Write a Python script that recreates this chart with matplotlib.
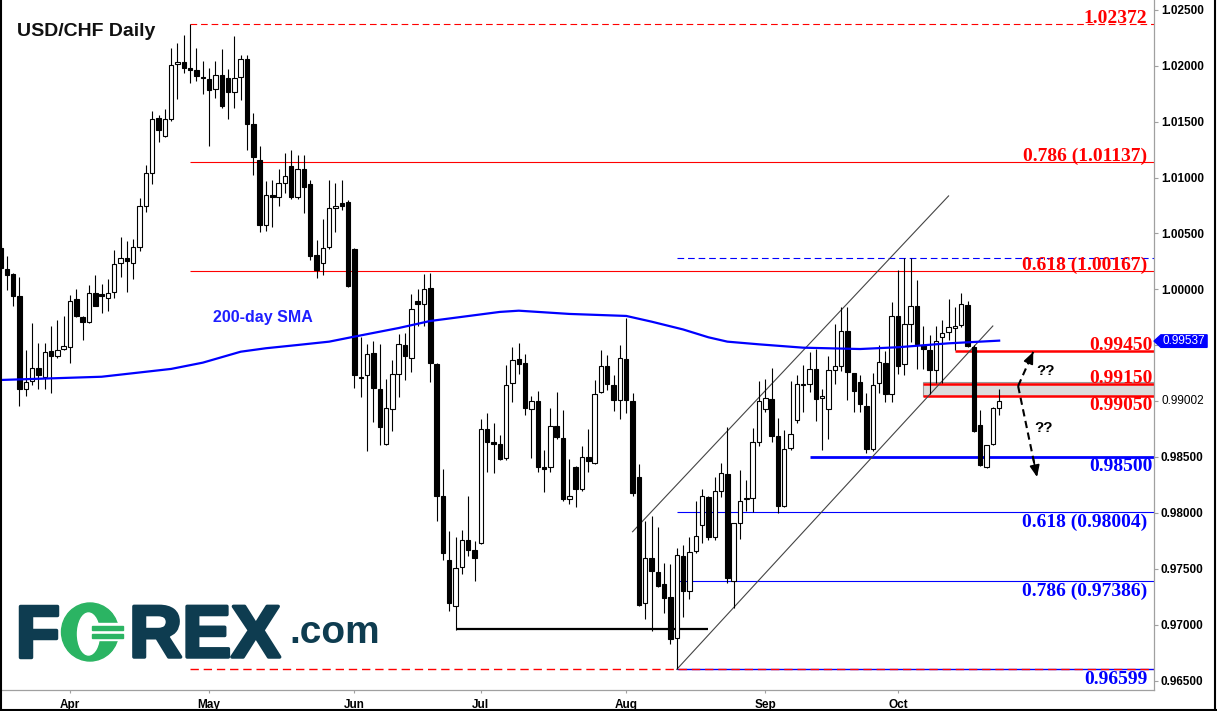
import matplotlib
matplotlib.use("Agg")
import matplotlib.pyplot as plt
import matplotlib.transforms as mtransforms
import matplotlib.patheffects as pe
from matplotlib.patches import Rectangle, Ellipse, Polygon
from matplotlib.lines import Line2D
import numpy as np
import pandas as pd

plt.rcParams['font.family'] = ['Liberation Sans', 'DejaVu Sans']

# ---------------------------------------------------------------
# USD/CHF daily candles
# ---------------------------------------------------------------
start_date = "2019-03-15"

opens = [
    1.0037, 1.0018, 1.0014, 0.9994, 0.9911, 0.9918, 0.9930, 0.9922, 0.9945, 0.9940,
    0.9947, 0.9948, 0.9991, 0.9975, 0.9971, 0.9997, 0.9996, 0.9992, 0.9998, 1.0024,
    1.0028, 1.0024, 1.0038, 1.0075, 1.0104, 1.0153, 1.0137, 1.0152, 1.0202, 1.0203,
    1.0198, 1.0196, 1.0190, 1.0188, 1.0179, 1.0192, 1.0189, 1.0177, 1.0190, 1.0206,
    1.0148, 1.0116, 1.0058, 1.0084, 1.0083, 1.0095, 1.0110, 1.0083, 1.0108, 1.0094,
    1.0031, 1.0024, 1.0038, 1.0073, 1.0077, 1.0078, 1.0036, 0.9922, 0.9923, 0.9943,
    0.9911, 0.9862, 0.9893, 0.9924, 0.9950, 0.9939, 0.9990, 0.9987, 1.0001, 0.9933,
    0.9815, 0.9758, 0.9717, 0.9752, 0.9776, 0.9767, 0.9773, 0.9875, 0.9863, 0.9862,
    0.9849, 0.9916, 0.9938, 0.9934, 0.9893, 0.9900, 0.9841, 0.9841, 0.9878, 0.9867,
    0.9812, 0.9841, 0.9821, 0.9850, 0.9845, 0.9908, 0.9931, 0.9914, 0.9901, 0.9938,
    0.9900, 0.9832, 0.9719, 0.9760, 0.9747, 0.9736, 0.9725, 0.9688, 0.9761, 0.9730,
    0.9766, 0.9789, 0.9814, 0.9778, 0.9820, 0.9835, 0.9739, 0.9791, 0.9812, 0.9813,
    0.9863, 0.9893, 0.9902, 0.9869, 0.9806, 0.9858, 0.9883, 0.9914, 0.9915, 0.9929,
    0.9903, 0.9893, 0.9928, 0.9931, 0.9963, 0.9925, 0.9917, 0.9896, 0.9857, 0.9916,
    0.9934, 0.9906, 0.9976, 0.9933, 0.9969, 0.9985, 0.9950, 0.9946, 0.9928, 0.9957,
    0.9962, 0.9965, 0.9968, 0.9986, 0.9948, 0.9879, 0.9841, 0.9862, 0.9894,
]
highs = [
    1.0040, 1.0030, 1.0015, 1.0011, 0.9946, 0.9970, 0.9952, 0.9952, 0.9967, 0.9973,
    0.9976, 0.9995, 1.0000, 0.9976, 1.0004, 1.0013, 1.0005, 1.0009, 1.0035, 1.0047,
    1.0043, 1.0045, 1.0082, 1.0111, 1.0160, 1.0156, 1.0161, 1.0216, 1.0220, 1.0228,
    1.0237, 1.0216, 1.0204, 1.0198, 1.0204, 1.0215, 1.0197, 1.0227, 1.0210, 1.0210,
    1.0158, 1.0128, 1.0097, 1.0098, 1.0108, 1.0122, 1.0125, 1.0120, 1.0120, 1.0098,
    1.0044, 1.0063, 1.0098, 1.0095, 1.0098, 1.0080, 1.0037, 0.9957, 0.9951, 0.9954,
    0.9951, 0.9920, 0.9937, 0.9960, 0.9961, 0.9996, 1.0000, 1.0014, 1.0015, 0.9934,
    0.9839, 0.9784, 0.9778, 0.9785, 0.9815, 0.9775, 0.9884, 0.9889, 0.9880, 0.9870,
    0.9932, 0.9948, 0.9952, 0.9942, 0.9905, 0.9909, 0.9856, 0.9894, 0.9908, 0.9892,
    0.9848, 0.9842, 0.9860, 0.9875, 0.9919, 0.9946, 0.9941, 0.9923, 0.9950, 0.9974,
    0.9907, 0.9844, 0.9793, 0.9797, 0.9787, 0.9755, 0.9754, 0.9769, 0.9771, 0.9778,
    0.9811, 0.9821, 0.9815, 0.9832, 0.9845, 0.9877, 0.9791, 0.9838, 0.9829, 0.9876,
    0.9918, 0.9920, 0.9930, 0.9885, 0.9874, 0.9918, 0.9923, 0.9932, 0.9944, 0.9947,
    0.9911, 0.9940, 0.9969, 0.9984, 0.9984, 0.9925, 0.9923, 0.9907, 0.9925, 0.9950,
    0.9945, 0.9989, 1.0017, 1.0028, 1.0028, 1.0008, 0.9967, 0.9959, 0.9967, 0.9973,
    0.9991, 0.9984, 0.9997, 0.9990, 0.9950, 0.9892, 0.9861, 0.9895, 0.9911,
]
lows = [
    1.0015, 0.9999, 0.9985, 0.9896, 0.9905, 0.9914, 0.9911, 0.9911, 0.9907, 0.9939,
    0.9946, 0.9934, 0.9975, 0.9955, 0.9970, 0.9985, 0.9979, 0.9981, 0.9992, 1.0011,
    0.9998, 1.0009, 1.0034, 1.0069, 1.0094, 1.0132, 1.0136, 1.0151, 1.0170, 1.0194,
    1.0185, 1.0186, 1.0175, 1.0128, 1.0171, 1.0162, 1.0152, 1.0162, 1.0169, 1.0125,
    1.0102, 1.0051, 1.0052, 1.0056, 1.0075, 1.0086, 1.0081, 1.0081, 1.0068, 1.0026,
    1.0010, 1.0013, 1.0036, 1.0051, 1.0071, 1.0002, 0.9912, 0.9904, 0.9855, 0.9881,
    0.9861, 0.9861, 0.9873, 0.9904, 0.9919, 0.9926, 0.9967, 0.9967, 0.9917, 0.9793,
    0.9758, 0.9712, 0.9695, 0.9745, 0.9761, 0.9739, 0.9772, 0.9837, 0.9836, 0.9847,
    0.9847, 0.9899, 0.9924, 0.9888, 0.9849, 0.9837, 0.9819, 0.9837, 0.9866, 0.9811,
    0.9808, 0.9805, 0.9820, 0.9837, 0.9844, 0.9907, 0.9910, 0.9891, 0.9884, 0.9889,
    0.9815, 0.9717, 0.9705, 0.9694, 0.9734, 0.9710, 0.9683, 0.9660, 0.9707, 0.9723,
    0.9764, 0.9773, 0.9776, 0.9776, 0.9814, 0.9737, 0.9715, 0.9777, 0.9802, 0.9801,
    0.9860, 0.9890, 0.9863, 0.9800, 0.9805, 0.9856, 0.9880, 0.9890, 0.9908, 0.9882,
    0.9856, 0.9866, 0.9915, 0.9927, 0.9901, 0.9890, 0.9890, 0.9854, 0.9855, 0.9907,
    0.9899, 0.9899, 0.9924, 0.9923, 0.9953, 0.9929, 0.9929, 0.9906, 0.9916, 0.9916,
    0.9955, 0.9946, 0.9966, 0.9948, 0.9872, 0.9842, 0.9840, 0.9861, 0.9888,
]
closes = [
    1.0019, 1.0013, 0.9994, 0.9911, 0.9917, 0.9930, 0.9923, 0.9944, 0.9940, 0.9946,
    0.9949, 0.9990, 0.9976, 0.9971, 0.9997, 0.9985, 0.9994, 0.9997, 1.0023, 1.0028,
    1.0025, 1.0038, 1.0075, 1.0104, 1.0152, 1.0143, 1.0152, 1.0201, 1.0203, 1.0198,
    1.0196, 1.0191, 1.0189, 1.0178, 1.0192, 1.0164, 1.0177, 1.0189, 1.0206, 1.0148,
    1.0118, 1.0058, 1.0084, 1.0083, 1.0095, 1.0101, 1.0083, 1.0108, 1.0092, 1.0030,
    1.0017, 1.0037, 1.0073, 1.0075, 1.0075, 1.0003, 0.9923, 0.9921, 0.9942, 0.9912,
    0.9877, 0.9894, 0.9924, 0.9951, 0.9940, 0.9982, 0.9987, 1.0000, 0.9934, 0.9815,
    0.9764, 0.9719, 0.9751, 0.9776, 0.9767, 0.9760, 0.9875, 0.9863, 0.9862, 0.9848,
    0.9914, 0.9937, 0.9933, 0.9894, 0.9900, 0.9841, 0.9839, 0.9878, 0.9868, 0.9812,
    0.9815, 0.9821, 0.9850, 0.9846, 0.9906, 0.9931, 0.9915, 0.9901, 0.9939, 0.9901,
    0.9818, 0.9718, 0.9760, 0.9748, 0.9735, 0.9724, 0.9687, 0.9762, 0.9730, 0.9765,
    0.9779, 0.9815, 0.9778, 0.9820, 0.9836, 0.9742, 0.9791, 0.9811, 0.9813, 0.9863,
    0.9900, 0.9903, 0.9869, 0.9806, 0.9857, 0.9871, 0.9915, 0.9915, 0.9929, 0.9902,
    0.9905, 0.9928, 0.9931, 0.9963, 0.9926, 0.9909, 0.9897, 0.9857, 0.9914, 0.9935,
    0.9906, 0.9976, 0.9931, 0.9969, 0.9985, 0.9951, 0.9947, 0.9928, 0.9954, 0.9961,
    0.9966, 0.9967, 0.9987, 0.9949, 0.9873, 0.9843, 0.9861, 0.9894, 0.9900,
]

# 200-day SMA, sampled along the drawn line (candle index, price)
sma_idx = [0, 16, 27, 32, 38, 42, 47, 52, 56, 63, 68, 79, 82, 90, 99, 103, 108, 112, 115,
           120, 127, 136, 142, 150, 158]
sma_val = [0.99189, 0.99218, 0.99288, 0.99344, 0.99442, 0.99473, 0.99502, 0.99532, 0.99577,
           0.99654, 0.99717, 0.99798, 0.99809, 0.99780, 0.99762, 0.99711, 0.99641, 0.99571,
           0.99532, 0.99508, 0.99478, 0.99466, 0.99482, 0.99517, 0.99541]
sma_last = 0.99537
last_price = 0.99002

# Fibonacci levels (red: May high -> Aug low, blue: Oct high -> Aug low)
red_fib_high = 1.02372
red_fib_low = 0.96599
red_fib_levels = [1.01137, 1.00167]
red_fib_names = ["0.786", "0.618"]
blue_fib_high = 1.00277
blue_fib_levels = [0.98004, 0.97386]
blue_fib_names = ["0.618", "0.786"]

# hand drawn levels
resistance = 0.99450
zone_low, zone_high = 0.99050, 0.99150
support = 0.98500
june_low = 0.96958

# rising channel (candle index, price)
chan_up_x, chan_up_y = [100, 150], [0.97831, 1.00836]
chan_lo_x, chan_lo_y = [107, 157], [0.96600, 0.99672]

# scenario arrows
arrow_start = (161.0, 0.99135)
arrow_up_end = (163.4, 0.99440)
arrow_dn_end = (164.0, 0.98321)

RED = '#ff0000'
BLUE = '#0000ff'
GRID_GREY = '#a0a0a0'

n = len(closes)
x = np.arange(n)
dates = pd.bdate_range(start_date, periods=n)
o, h, l, c = map(np.array, (opens, highs, lows, closes))

fig = plt.figure(figsize=(12.17, 7.11), dpi=100)
ax = fig.add_axes([0, 21 / 711, 1154 / 1217, 690 / 711])
ax.set_facecolor('white')
xmax = 182.5
ax.set_xlim(-0.08, xmax)
ax.set_ylim(0.96415, 1.02589)

# -------------------------------------------------------------------
# Levels and drawings
# -------------------------------------------------------------------
ax.hlines(red_fib_high, 30, xmax, color=RED, lw=0.8, linestyles=(0, (6, 3.5)), zorder=2)
ax.hlines(red_fib_levels, 30, xmax, color=RED, lw=0.8, zorder=2)
ax.hlines(red_fib_low, 107, xmax, color=BLUE, lw=1.0, zorder=2)
ax.hlines(red_fib_low, 30, xmax, color=RED, lw=1.0, linestyles=(0, (6, 3.5)), zorder=2)
ax.hlines(blue_fib_high, 107, xmax, color=BLUE, lw=0.8, linestyles=(0, (6, 3.5)), zorder=2)
ax.hlines(blue_fib_levels, 107, xmax, color=BLUE, lw=0.8, zorder=2)

ax.add_patch(Rectangle((146, 0.99043), xmax - 146, 0.99172 - 0.99043,
                       facecolor='#dcdcdc', edgecolor='#9a9a9a', lw=0.8, zorder=2))
ax.hlines([zone_low, zone_high], 146, xmax, color=RED, lw=1.8, zorder=2.2)
ax.hlines(resistance, 151, xmax, color=RED, lw=1.8, zorder=2.2)
ax.hlines(support, 128, xmax, color=BLUE, lw=2.0, zorder=2.2)
ax.hlines(june_low, 72, 112, color='black', lw=1.6, zorder=2.2)

ax.plot(chan_up_x, chan_up_y, color='#444444', lw=0.8, zorder=2.3)
ax.plot(chan_lo_x, chan_lo_y, color='#444444', lw=0.8, zorder=2.3)

# -------------------------------------------------------------------
# Candles
# -------------------------------------------------------------------
ax.vlines(x, l, h, color='black', lw=0.8, zorder=3)
up = c >= o
body_bottom = np.minimum(o, c)
body_height = np.maximum(np.abs(c - o), 0.00004)
ax.bar(x, body_height, bottom=body_bottom, width=0.7,
       color=np.where(up, 'white', 'black'), edgecolor='black', lw=0.8, zorder=3.2)

# 200-day SMA
ax.plot(sma_idx, sma_val, color=BLUE, lw=1.6, zorder=3.5)
ax.text(33.6, 0.99708, "200-day SMA", color='#1f1fff', fontsize=11.5,
        fontweight='bold', va='baseline', ha='left', zorder=4)

# scenario arrows
for end in (arrow_up_end, arrow_dn_end):
    ax.plot([arrow_start[0], end[0]], [arrow_start[1], end[1]], color='black',
            lw=1.5, linestyle=(0, (3.5, 2.2)), zorder=4)
    mid = (arrow_start[0] + 0.8 * (end[0] - arrow_start[0]),
           arrow_start[1] + 0.8 * (end[1] - arrow_start[1]))
    ax.annotate("", xy=end, xytext=mid, zorder=4,
                arrowprops=dict(arrowstyle='-|>,head_length=0.7,head_width=0.3',
                                color='black', lw=1.2, shrinkA=0, shrinkB=0))
ax.text(165.4, 0.99270, "??", fontsize=11, fontweight='bold', ha='center', va='center')
ax.text(165.1, 0.98755, "??", fontsize=11, fontweight='bold', ha='center', va='center')

# -------------------------------------------------------------------
# Level labels on the right
# -------------------------------------------------------------------
blend = mtransforms.blended_transform_factory(ax.transAxes, ax.transData)


def level_label(price, text, color, above=True, right=1147.5):
    dy = 1.2 if above else -14.5
    tr = mtransforms.offset_copy(blend, fig=fig, y=dy, units='dots')
    ax.text(right / 1154, price, text, transform=tr, color=color, fontsize=14,
            fontweight='bold', family='Liberation Serif', ha='right', va='baseline',
            zorder=5)


level_label(red_fib_high, f"{red_fib_high:.5f}", RED)
for lev, name in zip(red_fib_levels, red_fib_names):
    level_label(lev, f"{name} ({lev:.5f})", RED)
level_label(resistance, f"{resistance:.5f}", RED, right=1153)
level_label(zone_high, f"{zone_high:.5f}", RED, right=1153)
level_label(zone_low, f"{zone_low:.5f}", RED, above=False, right=1153)
level_label(support, f"{support:.5f}", BLUE, above=False, right=1153)
for lev, name in zip(blue_fib_levels, blue_fib_names):
    level_label(lev, f"{name} ({lev:.5f})", BLUE, above=False)
level_label(red_fib_low, f"{red_fib_low:.5f}", BLUE, above=False)

# -------------------------------------------------------------------
# Axes styling
# -------------------------------------------------------------------
for side in ('left', 'top'):
    ax.spines[side].set_visible(False)
for side in ('right', 'bottom'):
    ax.spines[side].set_color(GRID_GREY)
    ax.spines[side].set_linewidth(0.9)

yt = np.round(np.arange(0.965, 1.02501, 0.005), 3)
ylabels = ["" if v in (0.99, 0.995) else f"{v:.5f}" for v in yt]
ax.yaxis.tick_right()
ax.set_yticks(yt)
ax.set_yticklabels(ylabels, fontsize=8.5, fontweight='bold')
ax.tick_params(axis='y', direction='out', length=3, width=0.8, color=GRID_GREY, pad=2)

month_idx = [i for i in range(1, n) if dates[i].month != dates[i - 1].month]
ax.set_xticks(month_idx)
ax.set_xticklabels([dates[i].strftime('%b') for i in month_idx], fontsize=8.5, fontweight='bold')
ax.tick_params(axis='x', direction='out', length=2.5, width=0.8, color=GRID_GREY, pad=4)

# last price and SMA value on the price scale
ax.text(1.0066, last_price, f"{last_price:.5f}", transform=blend, fontsize=8.5,
        ha='left', va='center', clip_on=False)
tag = Polygon([(1.0, sma_last), (1.006, sma_last + 0.00056), (1.046, sma_last + 0.00056),
               (1.046, sma_last - 0.00056), (1.006, sma_last - 0.00056)],
              closed=True, transform=blend, facecolor=BLUE, edgecolor=BLUE,
              clip_on=False, zorder=6)
ax.add_patch(tag)
ax.text(1.0075, sma_last, f"{sma_last:.5f}", transform=blend, fontsize=8.5,
        color='white', ha='left', va='center', clip_on=False, zorder=7)

# -------------------------------------------------------------------
# Title, logo and frame (figure pixel space)
# -------------------------------------------------------------------
over = fig.add_axes([0, 0, 1, 1], facecolor='none')
over.set_xlim(0, 1217)
over.set_ylim(711, 0)
over.axis('off')

over.text(17, 36.5, "USD/CHF Daily", fontsize=14, fontweight='bold', color='#111111',
          va='baseline', ha='left')

TEAL = '#0e3c50'
GREEN = '#2bb463'
thick = [pe.withStroke(linewidth=2.5, foreground=TEAL)]
over.text(15, 657, "F", fontsize=53, fontweight='bold', color=TEAL, va='baseline',
          path_effects=thick)
over.text(129, 657, "REX", fontsize=53, fontweight='bold', color=TEAL, va='baseline',
          path_effects=thick)
over.text(289, 643, ".com", fontsize=28, fontweight='bold', color=TEAL, va='baseline')
# the currency-sign "O"
over.add_patch(Ellipse((90, 632), 57, 58, color=GREEN))
over.add_patch(Ellipse((88.5, 634), 22, 42, color='white'))
over.add_patch(Rectangle((94, 623), 29, 17, color='white'))
over.add_patch(Rectangle((92, 626), 31, 4, color=GREEN))
over.add_patch(Rectangle((92, 634), 31, 4, color=GREEN))

for xs, ys in (([0.7, 0.7], [0, 711]), ([1215, 1215], [0, 711]), ([0, 1217], [709.8, 709.8])):
    over.add_line(Line2D(xs, ys, color='black', lw=1.5))

fig.savefig("out.png", dpi=100)
plt.close(fig)
